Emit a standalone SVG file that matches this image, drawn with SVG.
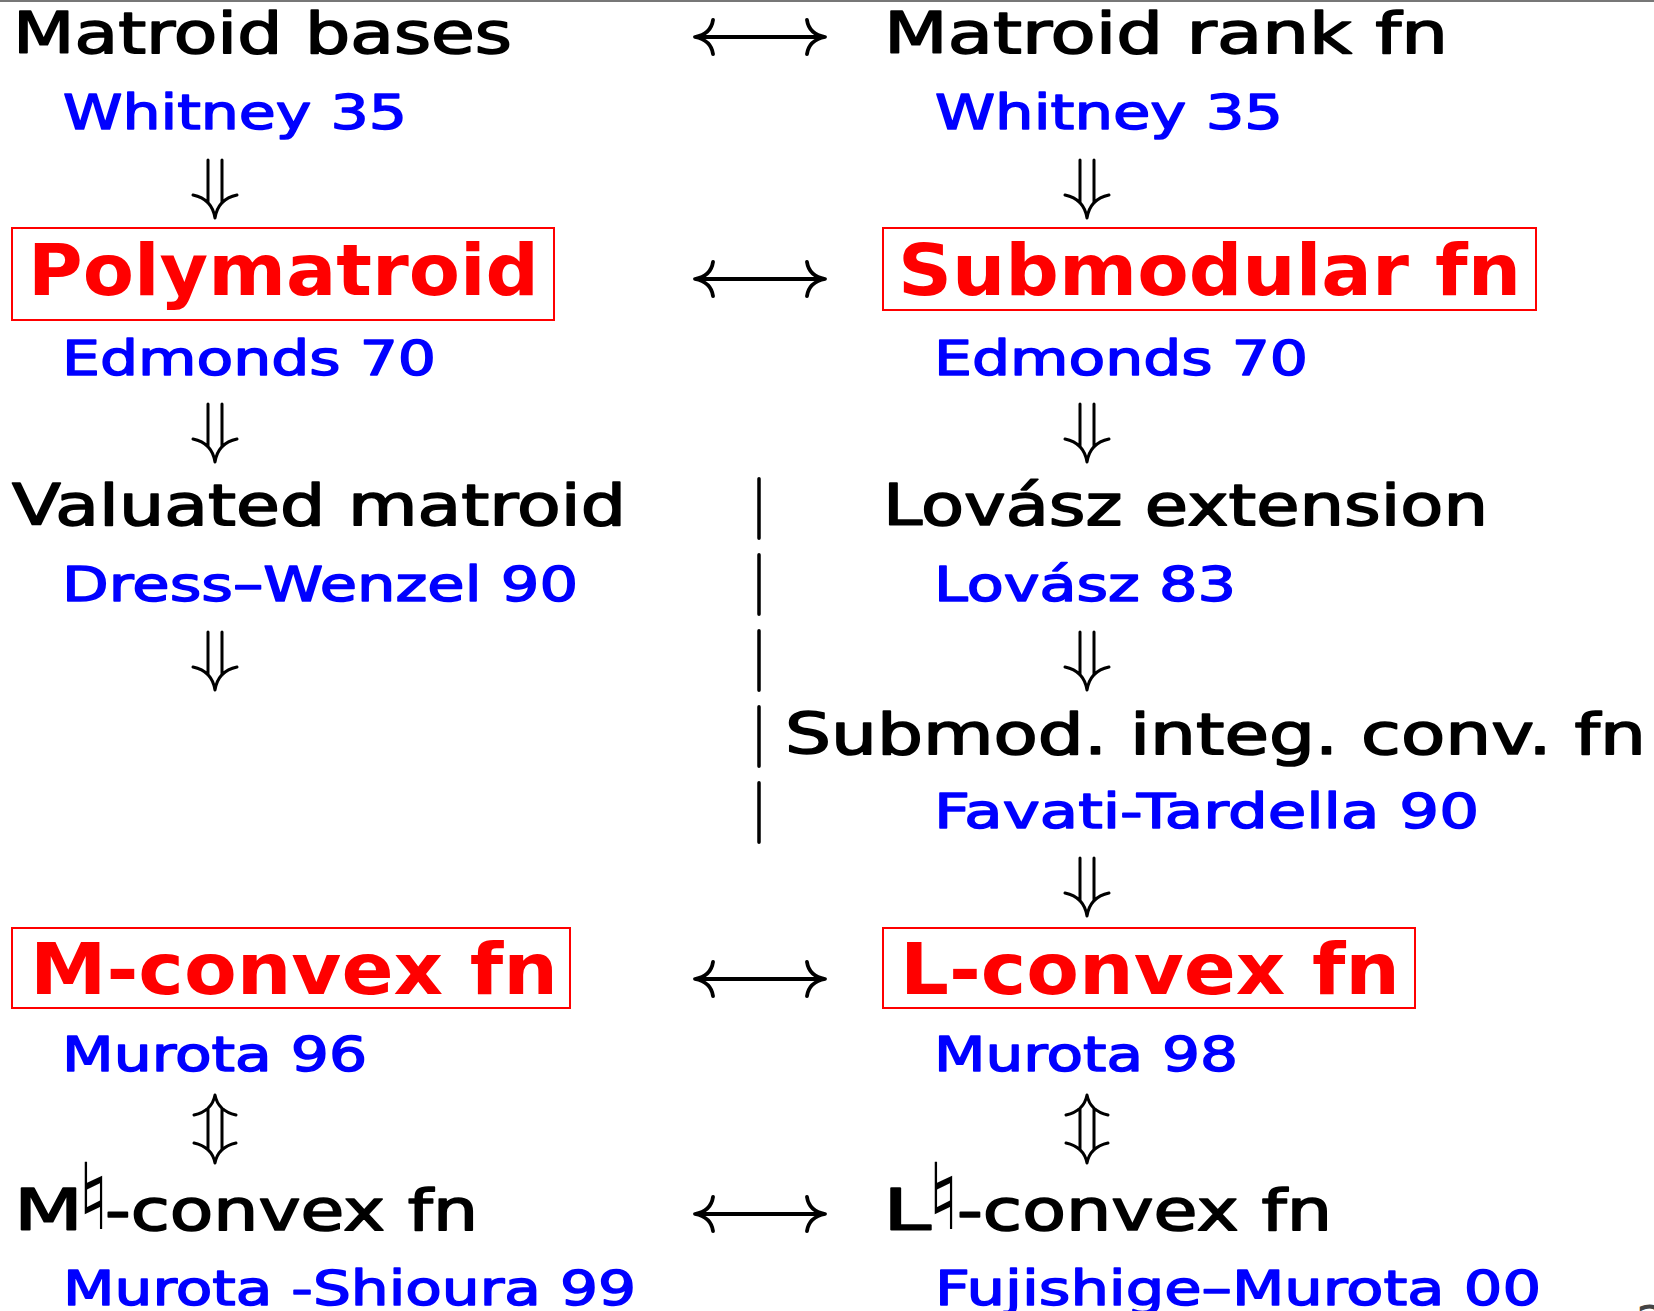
<svg xmlns="http://www.w3.org/2000/svg" xmlns:xlink="http://www.w3.org/1999/xlink" width="1654" height="1311" viewBox="0 0 1654 1311">
  <style>
    text { font-family: "DejaVu Sans", "Liberation Sans", sans-serif; }
    .head { font-size: 57px; fill: #000; stroke: #000; stroke-width: 1.6; stroke-linejoin: round; }
    .cite { font-size: 48px; fill: #0000ff; stroke: #0000ff; stroke-width: 1.5; stroke-linejoin: round; }
    .key { font-size: 72px; fill: #ff0000; font-weight: bold; }
    .nat { font-size: 92px; fill: #000; font-family: "DejaVu Sans", sans-serif; }
    .box { fill: none; stroke: #ff0000; stroke-width: 2; }
    .arr { fill: none; stroke: #000; stroke-width: 3; stroke-linecap: round; stroke-linejoin: round; }
    .harr { fill: none; stroke: #000; stroke-width: 3.8; stroke-linecap: round; stroke-linejoin: round; }
    .dash { stroke: #000; stroke-width: 3.5; stroke-linecap: round; stroke-dasharray: 59.5 16.5; }
  </style>
  <defs>
    <!-- implies (double down arrow), tip at y=58 -->
    <path id="dn" class="arr" d="M-7,0 V43 M7,0 V43 M-22,35 Q-3,39 0,58 Q3,39 22,35"/>
    <!-- equivalence (double up-down arrow), height 68 -->
    <path id="updn" class="arr" d="M-7,13 V55 M7,13 V55 M-21,20 Q-3,16 0,0 Q3,16 21,20 M-21,48 Q-3,52 0,68 Q3,52 21,48"/>
    <!-- long left-right arrow, length 130 -->
    <path id="lr" class="harr" d="M1,0 H129 M18,-17 Q16,-3 0,0 Q16,3 18,17 M112,-17 Q114,-3 130,0 Q114,3 112,17"/>
  </defs>

  <rect x="0" y="0" width="1654" height="2" fill="#777"/>

  <!-- connectors -->
  <g id="connectors">
    <use xlink:href="#lr" x="695" y="37"/>
    <use xlink:href="#lr" x="695" y="279"/>
    <use xlink:href="#lr" x="695" y="979"/>
    <use xlink:href="#lr" x="695" y="1214"/>

    <use xlink:href="#dn" x="215" y="160"/>
    <use xlink:href="#dn" x="215" y="404"/>
    <use xlink:href="#dn" x="215" y="632"/>

    <use xlink:href="#dn" x="1087" y="160"/>
    <use xlink:href="#dn" x="1087" y="404"/>
    <use xlink:href="#dn" x="1087" y="632"/>
    <use xlink:href="#dn" x="1087" y="858"/>

    <use xlink:href="#updn" x="215" y="1095"/>
    <use xlink:href="#updn" x="1087" y="1095"/>

    <line class="dash" x1="759" y1="478.75" x2="759" y2="845"/>
  </g>

  <!-- left column -->
  <g id="matroid-bases">
    <text class="head" x="13" y="53" textLength="499" lengthAdjust="spacingAndGlyphs">Matroid bases</text>
    <text class="cite" x="63" y="129" textLength="344" lengthAdjust="spacingAndGlyphs">Whitney 35</text>
  </g>
  <g id="polymatroid">
    <rect class="box" x="12" y="228" width="542" height="92"/>
    <text class="key" x="28" y="295" textLength="511" lengthAdjust="spacingAndGlyphs">Polymatroid</text>
    <text class="cite" x="62" y="375" textLength="374" lengthAdjust="spacingAndGlyphs">Edmonds 70</text>
  </g>
  <g id="valuated-matroid">
    <text class="head" x="12" y="525" textLength="614" lengthAdjust="spacingAndGlyphs">Valuated matroid</text>
    <text class="cite" x="62" y="601" textLength="516" lengthAdjust="spacingAndGlyphs">Dress–Wenzel 90</text>
  </g>
  <g id="m-convex">
    <rect class="box" x="12" y="928" width="558" height="80"/>
    <text class="key" x="30" y="994" textLength="528" lengthAdjust="spacingAndGlyphs">M-convex fn</text>
    <text class="cite" x="62" y="1071" textLength="305" lengthAdjust="spacingAndGlyphs">Murota 96</text>
  </g>
  <g id="m-natural-convex">
    <text class="head" x="14" y="1230" textLength="69" lengthAdjust="spacingAndGlyphs">M</text>
    <text class="nat" x="77" y="1229">♮</text>
    <text class="head" x="105" y="1230" textLength="373" lengthAdjust="spacingAndGlyphs">-convex fn</text>
    <text class="cite" x="63" y="1305" textLength="573" lengthAdjust="spacingAndGlyphs">Murota -Shioura 99</text>
  </g>

  <!-- right column -->
  <g id="matroid-rank">
    <text class="head" x="884" y="53" textLength="564" lengthAdjust="spacingAndGlyphs">Matroid rank fn</text>
    <text class="cite" x="935" y="129" textLength="348" lengthAdjust="spacingAndGlyphs">Whitney 35</text>
  </g>
  <g id="submodular">
    <rect class="box" x="883" y="228" width="653" height="82"/>
    <text class="key" x="898" y="295" textLength="623" lengthAdjust="spacingAndGlyphs">Submodular fn</text>
    <text class="cite" x="934" y="375" textLength="374" lengthAdjust="spacingAndGlyphs">Edmonds 70</text>
  </g>
  <g id="lovasz-extension">
    <text class="head" x="883" y="525" textLength="605" lengthAdjust="spacingAndGlyphs">Lovász extension</text>
    <text class="cite" x="934" y="601" textLength="302" lengthAdjust="spacingAndGlyphs">Lovász 83</text>
  </g>
  <g id="submod-integ-conv">
    <text class="head" x="785" y="754" textLength="861" lengthAdjust="spacingAndGlyphs">Submod. integ. conv. fn</text>
    <text class="cite" x="934" y="828" textLength="545" lengthAdjust="spacingAndGlyphs">Favati-Tardella 90</text>
  </g>
  <g id="l-convex">
    <rect class="box" x="883" y="928" width="532" height="80"/>
    <text class="key" x="900" y="994" textLength="500" lengthAdjust="spacingAndGlyphs">L-convex fn</text>
    <text class="cite" x="934" y="1071" textLength="304" lengthAdjust="spacingAndGlyphs">Murota 98</text>
  </g>
  <g id="l-natural-convex">
    <text class="head" x="883" y="1230" textLength="48" lengthAdjust="spacingAndGlyphs">L</text>
    <text class="nat" x="927" y="1229">♮</text>
    <text class="head" x="957" y="1230" textLength="375" lengthAdjust="spacingAndGlyphs">-convex fn</text>
    <text class="cite" x="935" y="1305" textLength="606" lengthAdjust="spacingAndGlyphs">Fujishige–Murota 00</text>
  </g>

  <text x="1636" y="1340" font-size="48" fill="#444">2</text>
</svg>
